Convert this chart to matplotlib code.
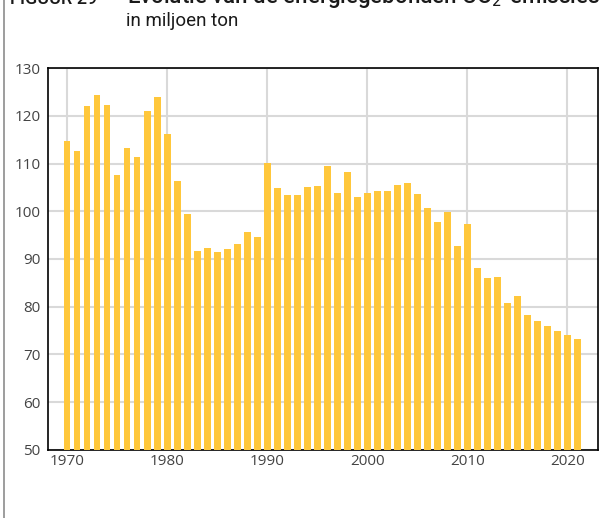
import matplotlib.pyplot as plt
from matplotlib.lines import Line2D

# Energy-related CO2 emissions, million tonnes
years = list(range(1970, 2022))
emissions = [
    114.8, 112.7, 122.1, 124.4, 122.3, 107.6, 113.3, 111.4, 120.9, 124.0,
    116.2, 106.4, 99.5, 91.7, 92.3, 91.5, 92.1, 93.2, 95.7, 94.7,
    110.1, 104.9, 103.5, 103.5, 105.1, 105.3, 109.5, 103.9, 108.3, 103.0,
    103.9, 104.3, 104.3, 105.6, 106.0, 103.7, 100.7, 97.8, 99.9, 92.8,
    97.4, 88.2, 86.1, 86.3, 80.8, 82.3, 78.3, 77.0, 76.0, 74.9,
    74.1, 73.3,
]
x_ticks = [1970, 1980, 1990, 2000, 2010, 2020]
y_ticks = [50, 60, 70, 80, 90, 100, 110, 120, 130]

plt.rcParams['font.family'] = ['Open Sans', 'DejaVu Sans']

fig = plt.figure(figsize=(6.03, 5.18), dpi=100)
ax = fig.add_axes([0.0788, 0.1313, 0.9129, 0.7374])

ax.bar(years, emissions, width=0.68, color='#FFC73B', zorder=3)

ax.set_xlim(1968.05, 2023.05)
ax.set_ylim(50, 130)
ax.set_xticks(x_ticks)
ax.set_yticks(y_ticks)
ax.grid(True, color='#d9d9d9', linewidth=1.5, zorder=0)
ax.tick_params(length=0, labelsize=11, colors='#444444', pad=5)
ax.tick_params(axis='x', pad=3)
for s in ax.spines.values():
    s.set_color('black')
    s.set_linewidth(1.2)

# heading, first line runs off the top edge
head = dict(fontweight='medium', family=['Roboto', 'DejaVu Sans'],
            color='#1a1a1a', va='baseline')
fig.text(10 / 603, 1 - 3.5 / 518, 'FIGUUR 29', fontsize=13, **head)
fig.text(127 / 603, 1 - 3.5 / 518, 'Evolutie van de energiegebonden CO$_2$-emissies',
         fontsize=16, **head)
fig.text(126 / 603, 1 - 26 / 518, 'in miljoen ton', fontsize=13.5,
         family=['Roboto', 'DejaVu Sans'], color='#1a1a1a', va='baseline')

fig.add_artist(Line2D([4 / 603, 4 / 603], [0, 1], color='#8c8c8c', linewidth=1.2))

fig.savefig('out.png', dpi=100)
